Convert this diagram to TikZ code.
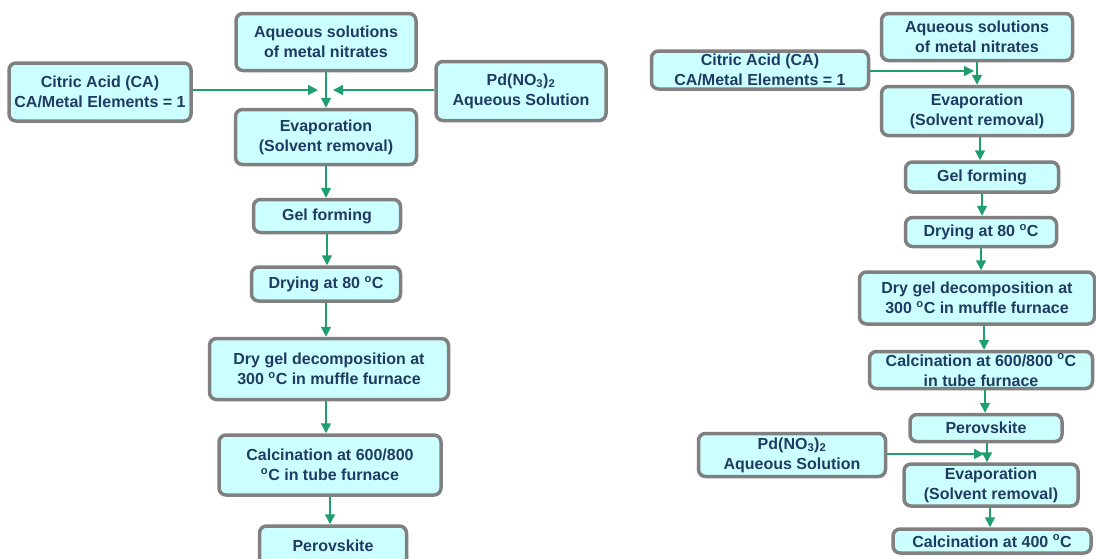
\documentclass[tikz,border=0pt]{standalone}
\usepackage{fontspec}
\setmainfont{Liberation Sans}
\usetikzlibrary{arrows.meta}
\definecolor{boxfill}{HTML}{CCFFFF}
\definecolor{boxline}{HTML}{808080}
\definecolor{boxtext}{HTML}{1F3B63}
\definecolor{flowgreen}{HTML}{1F9E6E}
\newcommand{\degC}{\textsuperscript{o}C}
\begin{document}
\begin{tikzpicture}[x=1pt,y=-1pt,line width=.35pt,
  box/.style={draw=boxline,line width=3.5pt,rounded corners=7pt,fill=boxfill,text=boxtext,
    font=\fontsize{16}{20}\selectfont\bfseries,align=center,inner sep=0pt},
  flow/.style={draw=flowgreen,line width=1.5pt,-{Triangle[length=10pt,width=10pt]}}]
\useasboundingbox (0,0) rectangle (1096,558);
\clip (0,0) rectangle (1096,558);
\node[box,minimum width=180,minimum height=57] (aqL) at (326,42) {Aqueous solutions\\of metal nitrates};
\node[box,minimum width=182,minimum height=58] (caL) at (100,92) {Citric Acid (CA)\\CA/Metal Elements = 1};
\node[box,minimum width=170,minimum height=59] (pdL) at (521,91) {Pd(NO\textsubscript{3})\textsubscript{2}\\Aqueous Solution};
\node[box,minimum width=181,minimum height=55] (evL) at (326,137) {Evaporation\\(Solvent removal)};
\node[box,minimum width=147,minimum height=33] (gelL) at (327,216) {Gel forming};
\node[box,minimum width=149,minimum height=34] (dryL) at (326,284) {Drying at 80 \degC};
\node[box,minimum width=239,minimum height=61] (decL) at (329,369) {Dry gel decomposition at\\300 \degC{} in muffle furnace};
\node[box,minimum width=222,minimum height=60] (calL) at (330,465) {Calcination at 600/800\\\degC{} in tube furnace};
\node[box,minimum width=147,minimum height=40] (perL) at (333,546) {Perovskite};
\coordinate (mL) at (326,90);
\draw[flow] (aqL.south) -- (evL.north);
\draw[flow] (caL.east |- mL) -- ([xshift=-8]mL);
\draw[flow] (pdL.west |- mL) -- ([xshift=7]mL);
\draw[flow] (evL.south) -- (evL.south |- gelL.north);
\draw[flow] (gelL.south) -- (gelL.south |- dryL.north);
\draw[flow] (dryL.south) -- (dryL.south |- decL.north);
\draw[flow] (decL.south -| dryL) -- (dryL |- calL.north);
\draw[flow] (calL.south) -- (calL.south |- perL.north);
\node[box,minimum width=191,minimum height=47] (aqR) at (977,37) {Aqueous solutions\\of metal nitrates};
\node[box,minimum width=217,minimum height=38] (caR) at (760,70) {Citric Acid (CA)\\CA/Metal Elements = 1};
\node[box,minimum width=191,minimum height=49] (evR) at (977,111) {Evaporation\\(Solvent removal)};
\node[box,minimum width=153,minimum height=30] (gelR) at (982,177) {Gel forming};
\node[box,minimum width=151,minimum height=29] (dryR) at (981,232) {Drying at 80 \degC};
\node[box,minimum width=235,minimum height=52] (decR) at (977,298) {Dry gel decomposition at\\300 \degC{} in muffle furnace};
\node[box,minimum width=223,minimum height=37] (calR) at (981,370) {Calcination at 600/800 \degC\\in tube furnace};
\node[box,minimum width=152,minimum height=27] (perR) at (986,428) {Perovskite};
\node[box,minimum width=187,minimum height=43] (pdR) at (792,455) {Pd(NO\textsubscript{3})\textsubscript{2}\\Aqueous Solution};
\node[box,minimum width=174,minimum height=42] (evR2) at (991,485) {Evaporation\\(Solvent removal)};
\node[box,minimum width=198,minimum height=24] (fcR) at (992,541) {Calcination at 400 \degC};
\coordinate (mR) at (977,71);
\coordinate (nR) at (987,454);
\draw[flow] (aqR.south) -- (evR.north);
\draw[flow] (caR.east |- mR) -- ([xshift=-3]mR);
\draw[flow] ([xshift=3]evR.south) -- ([xshift=3]evR.south |- gelR.north);
\draw[flow] (gelR.south) -- (gelR.south |- dryR.north);
\draw[flow] (dryR.south) -- (dryR.south |- decR.north);
\draw[flow] ([xshift=7]decR.south) -- ([xshift=7]decR.south |- calR.north);
\draw[flow] ([xshift=4]calR.south) -- ([xshift=4]calR.south |- perR.north);
\draw[flow] (perR.south -| nR) -- (nR |- evR2.north);
\draw[flow] (pdR.east |- nR) -- ([xshift=-3]nR);
\draw[flow] ([xshift=-1]evR2.south) -- ([xshift=-1]evR2.south |- fcR.north);
\end{tikzpicture}
\end{document}
